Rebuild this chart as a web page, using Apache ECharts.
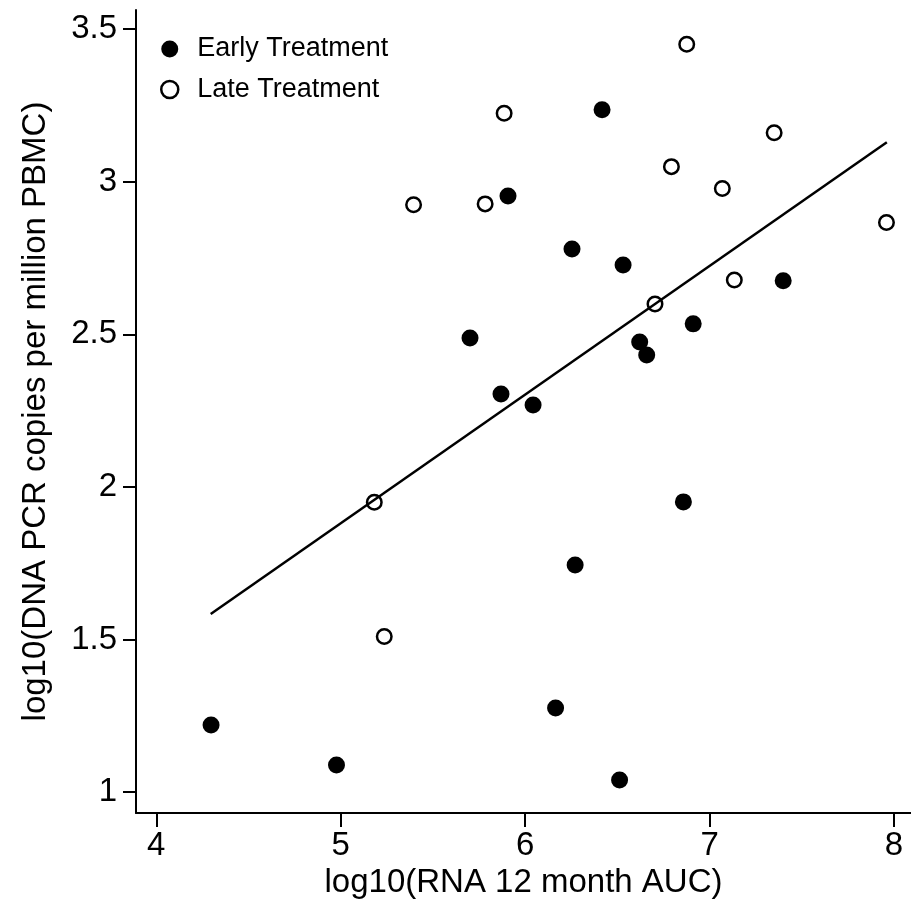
<!DOCTYPE html>
<html>
<head>
<meta charset="utf-8">
<script src="https://cdn.jsdelivr.net/npm/echarts@6/dist/echarts.min.js"></script>
<style>
html,body{margin:0;padding:0;background:#fff;}
#chart{width:911px;height:901px;}
</style>
</head>
<body>
<div id="chart"></div>
<script>
// Early treatment points [log10 RNA AUC, log10 DNA PCR]
const earlyX = [4.297, 4.977, 6.165, 6.512, 6.271, 6.858, 5.701, 5.869, 6.043, 5.907, 6.254, 6.531, 6.621, 6.659, 6.911, 7.399, 6.417];
const earlyY = [1.220, 1.089, 1.276, 1.040, 1.744, 1.951, 2.488, 2.304, 2.268, 2.953, 2.779, 2.727, 2.475, 2.432, 2.534, 2.675, 3.235];
// Late treatment points
const lateX = [5.395, 5.783, 5.886, 6.876, 6.793, 7.069, 7.350, 7.959, 7.134, 6.704, 5.182, 5.236];
const lateY = [2.924, 2.927, 3.224, 3.450, 3.049, 2.977, 3.160, 2.866, 2.678, 2.599, 1.950, 1.510];
// Fitted line endpoints
const fitX = [4.295, 7.961];
const fitY = [1.584, 3.129];
// Tick labels
const xTicks = [4, 5, 6, 7, 8];
const yTicks = [1, 1.5, 2, 2.5, 3, 3.5];

const zip = (a, b) => a.map((v, i) => [v, b[i]]);
const FONT = 'Liberation Sans, Arial, Helvetica, sans-serif';

const chart = echarts.init(document.getElementById('chart'));
chart.setOption({
  animation: false,
  backgroundColor: '#fff',
  textStyle: { fontFamily: FONT, color: '#000' },
  grid: { left: 136, right: 0, top: 10, bottom: 88, containLabel: false, outerBoundsMode: 'none' },
  legend: {
    orient: 'vertical',
    left: 160,
    top: 35.5,
    padding: 0,
    itemWidth: 17,
    itemHeight: 17,
    itemGap: 13.5,
    selectedMode: false,
    textStyle: { fontSize: 27, color: '#000', fontFamily: FONT, padding: [0, 0, 0, 14] },
    data: [
      { name: 'Early Treatment', icon: 'circle', itemStyle: { color: '#000', borderWidth: 0 } },
      { name: 'Late Treatment', icon: 'circle', itemStyle: { color: '#fff', borderColor: '#000', borderWidth: 2.5 } }
    ]
  },
  xAxis: {
    type: 'value',
    min: 3.89,
    max: 8.092,
    name: 'log10(RNA 12 month AUC)',
    nameLocation: 'middle',
    nameGap: 52,
    nameTextStyle: { fontSize: 33, color: '#000', fontFamily: FONT },
    splitLine: { show: false },
    axisLine: { show: true, onZero: false, lineStyle: { color: '#000', width: 2 } },
    axisTick: { show: true, length: 14, lineStyle: { color: '#000', width: 2 }, customValues: xTicks },
    axisLabel: { fontSize: 33, color: '#000', margin: 16, fontFamily: FONT, customValues: xTicks }
  },
  yAxis: {
    type: 'value',
    min: 0.932,
    max: 3.562,
    name: 'log10(DNA PCR copies per million PBMC)',
    nameLocation: 'middle',
    nameGap: 84,
    nameTextStyle: { fontSize: 33, color: '#000', fontFamily: FONT },
    splitLine: { show: false },
    axisLine: { show: true, onZero: false, lineStyle: { color: '#000', width: 2 } },
    axisTick: { show: true, length: 13, lineStyle: { color: '#000', width: 2 }, customValues: yTicks },
    axisLabel: { fontSize: 33, color: '#000', margin: 19, fontFamily: FONT, customValues: yTicks }
  },
  series: [
    {
      name: 'Fit',
      type: 'line',
      data: zip(fitX, fitY),
      symbol: 'none',
      silent: true,
      lineStyle: { color: '#000', width: 2.5 },
      z: 1
    },
    {
      name: 'Early Treatment',
      type: 'scatter',
      data: zip(earlyX, earlyY),
      symbol: 'circle',
      symbolSize: 17,
      silent: true,
      itemStyle: { color: '#000', opacity: 1 },
      z: 2
    },
    {
      name: 'Late Treatment',
      type: 'scatter',
      data: zip(lateX, lateY),
      symbol: 'circle',
      symbolSize: 14.5,
      silent: true,
      itemStyle: { color: 'rgba(255,255,255,0)', borderColor: '#000', borderWidth: 2.5, opacity: 1 },
      z: 2
    }
  ]
});
</script>
</body>
</html>
